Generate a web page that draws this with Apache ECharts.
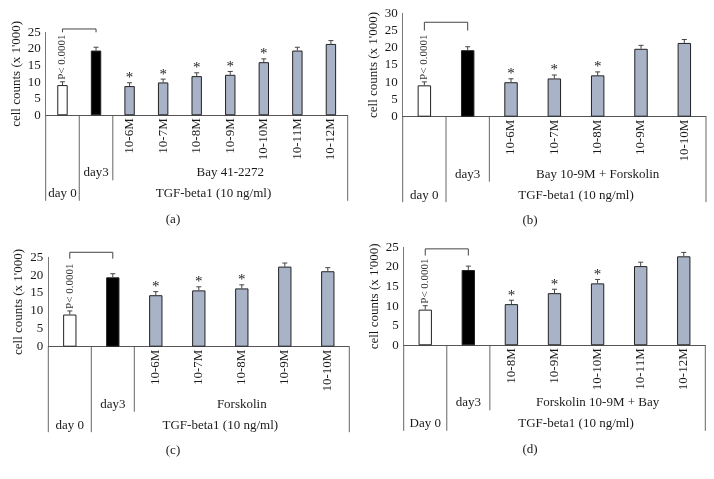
<!DOCTYPE html>
<html><head><meta charset="utf-8">
<script src="https://cdn.jsdelivr.net/npm/echarts@6/dist/echarts.min.js"></script>
<style>html,body{margin:0;padding:0;background:#fff}#c{width:714px;height:479px}</style>
</head><body><div id="c"></div><script>
const FONT = '"Liberation Serif","DejaVu Serif",serif';

// ---- Panel (a) ----
const catsA = ['day 0','day3','10-6M','10-7M','10-8M','10-9M','10-10M','10-11M','10-12M'];
const valsA = [9.1, 19.5, 8.8, 9.9, 11.8, 12.2, 16.0, 19.5, 21.5];
const errA  = [1.0, 1.0, 1.0, 1.0, 1.0, 1.0, 1.0, 1.0, 1.0];
const sigA  = [0, 0, 1, 1, 1, 1, 1, 0, 0];
const groupA = 'Bay 41-2272';
const yMaxA = 25;
const bracketA = [26.0, 25.0];

// ---- Panel (b) ----
const catsB = ['day 0','day3','10-6M','10-7M','10-8M','10-9M','10-10M'];
const valsB = [9.1, 19.3, 10.0, 11.1, 12.0, 19.7, 21.4];
const errB  = [1.0, 1.0, 1.0, 1.0, 1.0, 1.0, 1.0];
const sigB  = [0, 0, 1, 1, 1, 0, 0];
const groupB = 'Bay 10-9M + Forskolin';
const yMaxB = 30;
const bracketB = [27.4, 25.0];

// ---- Panel (c) ----
const catsC = ['day 0','day3','10-6M','10-7M','10-8M','10-9M','10-10M'];
const valsC = [9.0, 19.4, 14.4, 15.75, 16.3, 22.4, 21.1];
const errC  = [1.0, 1.0, 1.0, 1.0, 1.0, 1.0, 1.0];
const sigC  = [0, 0, 1, 1, 1, 0, 0];
const groupC = 'Forskolin';
const yMaxC = 25;
const bracketC = [26.4, 24.6];

// ---- Panel (d) ----
const catsD = ['Day 0','day3','10-8M','10-9M','10-10M','10-11M','10-12M'];
const valsD = [9.1, 19.2, 10.5, 13.3, 15.8, 20.2, 22.7];
const errD  = [1.0, 1.0, 1.0, 1.0, 1.0, 1.0, 1.0];
const sigD  = [0, 0, 1, 1, 1, 0, 0];
const groupD = 'Forskolin 10-9M + Bay';
const yMaxD = 25;
const bracketD = [24.6, 22.9];

const yStep = 5;
const outerLabel = 'TGF-beta1 (10 ng/ml)';
const pLabel = 'P< 0.0001';
const yTitle = "cell counts (x 1'000)";
const captions = ['(a)','(b)','(c)','(d)'];

const panels = [
  {cats:catsA, vals:valsA, err:errA, sig:sigA, group:groupA, yMax:yMaxA, bracket:bracketA},
  {cats:catsB, vals:valsB, err:errB, sig:sigB, group:groupB, yMax:yMaxB, bracket:bracketB},
  {cats:catsC, vals:valsC, err:errC, sig:sigC, group:groupC, yMax:yMaxC, bracket:bracketC},
  {cats:catsD, vals:valsD, err:errD, sig:sigD, group:groupD, yMax:yMaxD, bracket:bracketD}
];

// layout (pixels)
const grids = [
  {left:45.7, top:32.3, width:302, height:83},
  {left:402.7, top:13.3, width:303.3, height:103.4},
  {left:48.3, top:257.3, width:301, height:89.4},
  {left:403.7, top:247.3, width:301.6, height:98}
];
const captionX = [173, 530, 173, 530];

const TXT = '#1a1a1a';
const BAR_GRAY = '#a9b3c7';

const chart = echarts.init(document.getElementById('c'), null, {renderer:'canvas'});

const option = {
  animation:false,
  backgroundColor:'#fff',
  grid: grids,
  xAxis: panels.map((p,k)=>({
    type:'category', gridIndex:k, data:p.cats,
    axisLine:{show:true, lineStyle:{color:'#555', width:1}},
    axisTick:{show:false},
    axisLabel:{rotate:90, margin:3, fontSize:13, fontFamily:FONT, color:TXT, interval:0,
      formatter:(v,i)=> i<2 ? '' : v}
  })),
  yAxis: panels.map((p,k)=>({
    type:'value', gridIndex:k, min:0, max:p.yMax, interval:yStep,
    name:yTitle, nameLocation:'middle', nameGap:23,
    nameTextStyle:{fontSize:13, fontFamily:FONT, color:TXT},
    axisLine:{show:true, lineStyle:{color:'#777', width:1}},
    axisTick:{show:false},
    splitLine:{show:false},
    axisLabel:{fontSize:13, fontFamily:FONT, color:TXT, margin:5}
  })),
  series: []
};

panels.forEach((p,k)=>{
  option.series.push({
    type:'bar', xAxisIndex:k, yAxisIndex:k, barWidth:'31%',
    data: p.vals.map((v,i)=>({value:v, itemStyle:{color: i===0?'#ffffff':(i===1?'#000000':BAR_GRAY)}})),
    itemStyle:{borderColor:'#222', borderWidth:1}
  });
  option.series.push({
    type:'custom', xAxisIndex:k, yAxisIndex:k, clip:false, z:5,
    data: p.vals.map((v,i)=>[i, v, p.err[i], p.sig[i]]),
    encode:{x:0, y:1},
    renderItem:(params, api)=>{
      const i=api.value(0), v=api.value(1), e=api.value(2), s=api.value(3);
      const a=api.coord([i,v]), b=api.coord([i,v+e]);
      const ch=[
        {type:'line', shape:{x1:a[0],y1:a[1],x2:b[0],y2:b[1]}, style:{stroke:'#444', lineWidth:1}},
        {type:'line', shape:{x1:b[0]-2.5,y1:b[1],x2:b[0]+2.5,y2:b[1]}, style:{stroke:'#444', lineWidth:1}}
      ];
      if(s) ch.push({type:'text', style:{text:'*', x:b[0], y:b[1]+3, align:'center', verticalAlign:'bottom', font:'15px '+FONT, fill:'#222'}});
      return {type:'group', children:ch};
    }
  });
  option.series.push({
    type:'custom', xAxisIndex:k, yAxisIndex:k, clip:false, z:5,
    data: [[0, 1, p.bracket[0], p.bracket[1], p.vals[0]+p.err[0]]],
    encode:{x:[0,1], y:[2,3]},
    renderItem:(params, api)=>{
      const t0=api.coord([api.value(0), api.value(2)]);
      const t1=api.coord([api.value(1), api.value(2)]);
      const l0=api.coord([api.value(0), api.value(3)]);
      const l1=api.coord([api.value(1), api.value(3)]);
      const pe=api.coord([api.value(0), api.value(4)]);
      return {type:'group', children:[
        {type:'polyline', shape:{points:[[l0[0],l0[1]],[t0[0],t0[1]],[t1[0],t1[1]],[l1[0],l1[1]]]}, style:{stroke:'#444', lineWidth:1, fill:null}},
        {type:'text', x:pe[0], y:pe[1]-2, rotation:Math.PI/2,
          style:{text:pLabel, x:0, y:0, align:'left', verticalAlign:'middle', font:'11px '+FONT, fill:'#333'}}
      ]};
    }
  });
});

chart.setOption(option);

// hierarchical group labels and separators
const gfx = [];
panels.forEach((p,k)=>{
  const n = p.cats.length;
  const c0 = chart.convertToPixel({gridIndex:k}, [0, 0]);
  const c1 = chart.convertToPixel({gridIndex:k}, [1, 0]);
  const cw = c1[0]-c0[0];
  const y0 = c0[1];
  const bnd = j => c0[0] - cw/2 + j*cw;
  const line = (x, len)=>({type:'line', silent:true, shape:{x1:x, y1:y0, x2:x, y2:y0+len}, style:{stroke:'#666', lineWidth:1}});
  const text = (x, y, t)=>({type:'text', silent:true, style:{text:t, x:x, y:y, align:'center', verticalAlign:'middle', font:'13px '+FONT, fill:TXT}});
  gfx.push(line(bnd(0), 85.5), line(bnd(1), 85.5), line(bnd(2), 65), line(bnd(n), 85.5));
  gfx.push(text(c1[0], y0+57.5, p.cats[1]));
  gfx.push(text((bnd(2)+bnd(n))/2, y0+57.5, p.group));
  gfx.push(text(c0[0], y0+78.5, p.cats[0]));
  gfx.push(text((bnd(1)+bnd(n))/2, y0+78.5, outerLabel));
  gfx.push(text(captionX[k], y0+104, captions[k]));
});
chart.setOption({graphic: gfx});
</script></body></html>
